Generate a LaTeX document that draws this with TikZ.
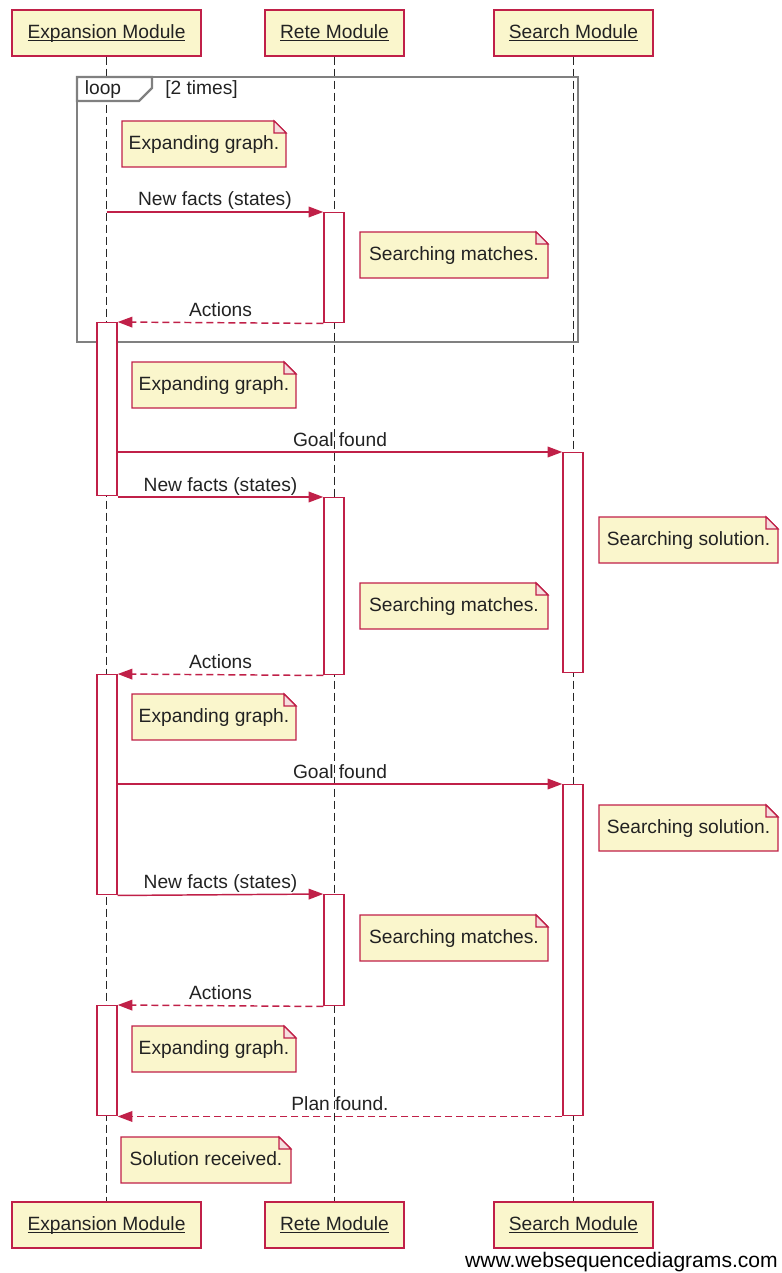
\documentclass[tikz,border=0pt]{standalone}
\usepackage{fontspec}
\setmainfont{Liberation Sans}
\usetikzlibrary{arrows.meta,calc}

\definecolor{wsdfill}{RGB}{250,246,204}
\definecolor{wsdline}{RGB}{192,32,72}
\definecolor{wsdtext}{RGB}{34,34,34}
\definecolor{framegray}{RGB}{128,128,128}
\definecolor{foldfill}{RGB}{246,222,222}

% underline at a fixed distance below the baseline
\newcommand\fixedul[1]{\setbox0\hbox{#1}\rlap{\rule[-2.1pt]{\wd0}{0.8pt}}\box0}

% note with a folded top-right corner: name, x1, y1, x2, y2, text
\newcommand\wsdnote[6]{%
  \path[notebody] (#2,#3) -- (#4-12,#3) -- (#4,#3+12) -- (#4,#5) -- (#2,#5) -- cycle;
  \path[notefold] (#4-12,#3) -- (#4-12,#3+12) -- (#4,#3+12) -- cycle;
  \node[notetext] (#1) at ({(#2+#4)/2},{(#3+#5)/2}) {#6};%
}

\begin{document}
\begin{tikzpicture}[x=0.75pt,y=-0.75pt,
  font=\fontsize{14.4}{17}\selectfont, text=wsdtext,
  actor/.style={draw=wsdline, fill=wsdfill, line width=1.1pt,
    minimum height=34.5pt, inner sep=0pt, text height=10.4pt, text depth=2.6pt},
  lifeline/.style={draw=black!85, line width=1.05pt, dash pattern=on 6pt off 3pt},
  act/.style={draw=wsdline, fill=white, line width=1.1pt, inner sep=0pt,
    minimum width=15pt, minimum height=#1*0.75pt, anchor=north},
  msg/.style={draw=wsdline, line width=1.1pt,
    -{Triangle[length=11pt,width=8pt]}},
  reply/.style={msg, dash pattern=on 5.25pt off 3pt},
  lbl/.style={anchor=base, inner sep=0pt, yshift=4.5pt},
  notebody/.style={draw=wsdline, fill=wsdfill, line width=1.1pt, line join=miter},
  notefold/.style={draw=wsdline, fill=foldfill, line width=0.8pt},
  notetext/.style={inner sep=0pt, text height=10.4pt, text depth=2.6pt},
  frame/.style={draw=framegray, line width=1.8pt},
]
\useasboundingbox (0,0) rectangle (781,1273);

% participants, top and bottom
\node[actor, minimum width=141.75pt] (hE) at (106.5,33) {\fixedul{Expansion Module}};
\node[actor, minimum width=104.25pt] (hR) at (334.5,33) {\fixedul{Rete Module}};
\node[actor, minimum width=119.25pt] (hS) at (573.5,33) {\fixedul{Search Module}};
\node[actor, minimum width=141.75pt] (fE) at (106.5,1225) {\fixedul{Expansion Module}};
\node[actor, minimum width=104.25pt] (fR) at (334.5,1225) {\fixedul{Rete Module}};
\node[actor, minimum width=119.25pt] (fS) at (573.5,1225) {\fixedul{Search Module}};

% lifelines
\draw[lifeline] (hE.south) -- (fE.north);
\draw[lifeline] (hR.south) -- (fR.north);
\draw[lifeline] (hS.south) -- (fS.north);

% loop frame
\draw[frame] (77,77) rectangle (578,342);
\draw[frame, fill=white] (77,77) -- (152,77) -- (152,88) -- (139,101) -- (77,101) -- cycle;
\node[inner sep=0pt, text height=10.4pt, text depth=2.6pt] (looptag) at (103,89) {loop};
\node[inner sep=0pt, anchor=west, text height=10.4pt, text depth=2.6pt] (loopcond) at (165,89) {[2 times]};

% activation bars
\node[act=173] (e1) at (107,322) {};
\node[act=220] (e2) at (107,674) {};
\node[act=110] (e3) at (107,1005) {};
\node[act=110] (r1) at (334,212) {};
\node[act=177] (r2) at (334,497) {};
\node[act=111] (r3) at (334,894) {};
\node[act=220] (s1) at (573,452) {};
\node[act=331] (s2) at (573,784) {};

% notes
\wsdnote{n1}{122}{121}{286}{167}{Expanding graph.}
\wsdnote{n2}{360}{232}{548}{278}{Searching matches.}
\wsdnote{n3}{132}{362}{296}{408}{Expanding graph.}
\wsdnote{n4}{599}{517}{778}{563}{Searching solution.}
\wsdnote{n5}{360}{583}{548}{629}{Searching matches.}
\wsdnote{n6}{132}{694}{296}{740}{Expanding graph.}
\wsdnote{n7}{599}{805}{778}{851}{Searching solution.}
\wsdnote{n8}{360}{915}{548}{961}{Searching matches.}
\wsdnote{n9}{132}{1026}{296}{1072}{Expanding graph.}
\wsdnote{n10}{121}{1137}{291}{1183}{Solution received.}

% messages
\draw[msg] (hE.south |- r1.north) -- node[lbl] (l1) {New facts (states)} (r1.north west);
\draw[reply] (r1.south west) -- node[lbl] (l2) {Actions} (e1.north east);
\draw[msg] (e1.east |- s1.north) -- node[lbl] (l3) {Goal found} (s1.north west);
\draw[msg] (e1.east |- r2.north) -- node[lbl] (l4) {New facts (states)} (r2.north west);
\draw[reply] (r2.south west) -- node[lbl] (l5) {Actions} (e2.north east);
\draw[msg] (e2.east |- s2.north) -- node[lbl] (l6) {Goal found} (s2.north west);
\draw[msg] (e2.south east) -- node[lbl] (l7) {New facts (states)} (r3.north west);
\draw[reply] (r3.south west) -- node[lbl] (l8) {Actions} (e3.north east);
\draw[reply] (s2.south west) -- node[lbl] (l9) {Plan found.} (e3.south east);

% credit line
\node[anchor=base east, inner sep=0pt, font=\fontsize{15.8}{18}\selectfont, text=black]
  (credit) at (778,1267) {www.websequencediagrams.com};
\end{tikzpicture}
\end{document}
